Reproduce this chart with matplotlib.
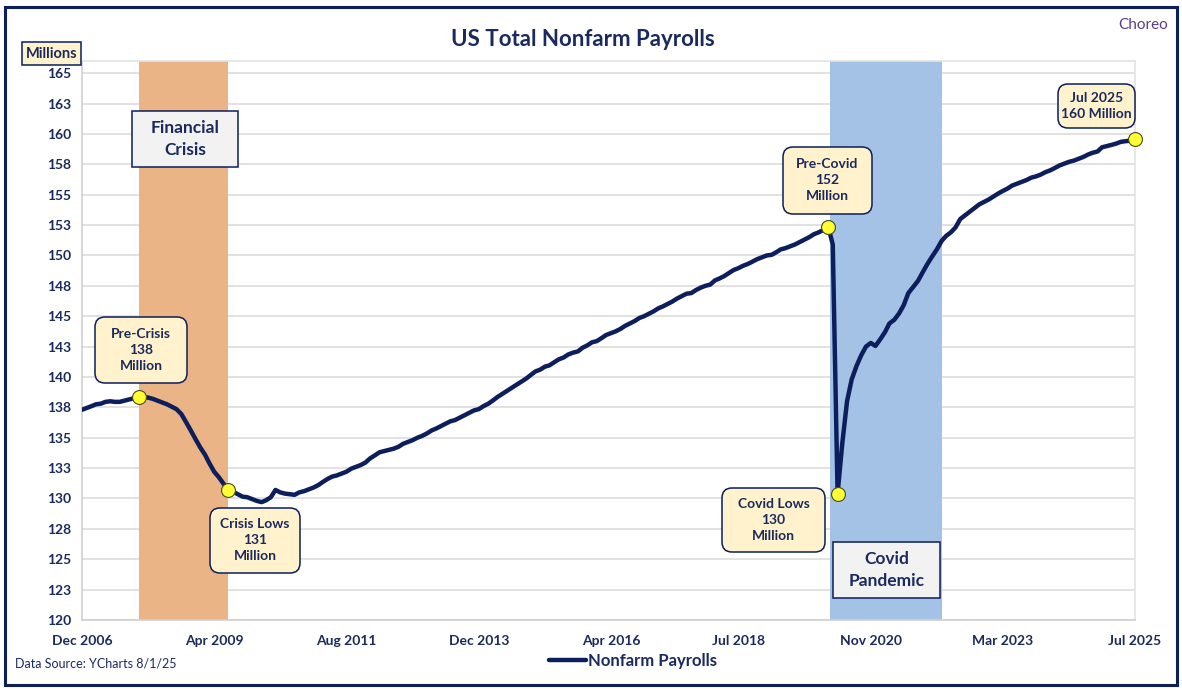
import numpy as np
import pandas as pd
import matplotlib
matplotlib.use("Agg")
import matplotlib.pyplot as plt
from matplotlib.patches import FancyBboxPatch, Rectangle

# Total nonfarm payrolls, millions, monthly from Dec 2006 to Jul 2025
start_month = "2006-12-01"
y2006 = [137.3]
y2007 = [137.45, 137.6, 137.75, 137.8, 137.95, 138.0, 137.95, 137.95, 138.05, 138.15, 138.25, 138.35]
y2008 = [138.35, 138.3, 138.2, 138.05, 137.9, 137.75, 137.55, 137.35, 136.95, 136.3, 135.6, 134.9]
y2009 = [134.2, 133.6, 132.9, 132.2, 131.75, 131.2, 130.7, 130.55, 130.35, 130.15, 130.1, 129.95]
y2010 = [129.8, 129.7, 129.85, 130.1, 130.7, 130.5, 130.4, 130.35, 130.3, 130.5, 130.6, 130.75]
y2011 = [130.9, 131.1, 131.35, 131.6, 131.8, 131.9, 132.05, 132.2, 132.45, 132.6, 132.75, 132.95]
y2012 = [133.3, 133.55, 133.8, 133.9, 134.0, 134.1, 134.25, 134.5, 134.65, 134.8, 135.0, 135.15]
y2013 = [135.35, 135.6, 135.75, 135.95, 136.15, 136.35, 136.45, 136.65, 136.85, 137.05, 137.25, 137.35]
y2014 = [137.6, 137.8, 138.05, 138.35, 138.6, 138.85, 139.1, 139.35, 139.6, 139.85, 140.15, 140.45]
y2015 = [140.6, 140.85, 140.95, 141.2, 141.45, 141.6, 141.85, 142.0, 142.1, 142.4, 142.6, 142.85]
y2016 = [142.95, 143.2, 143.45, 143.6, 143.75, 143.95, 144.2, 144.4, 144.6, 144.85, 145.0, 145.2]
y2017 = [145.4, 145.65, 145.8, 146.0, 146.2, 146.45, 146.65, 146.85, 146.9, 147.15, 147.35, 147.5]
y2018 = [147.6, 147.95, 148.1, 148.3, 148.55, 148.8, 148.95, 149.15, 149.3, 149.5, 149.7, 149.85]
y2019 = [150.0, 150.05, 150.25, 150.5, 150.6, 150.75, 150.9, 151.1, 151.3, 151.5, 151.75, 151.9]
y2020 = [152.1, 152.35, 150.9, 130.4, 134.5, 138.0, 139.8, 140.9, 141.8, 142.5, 142.8, 142.55]
y2021 = [143.1, 143.7, 144.4, 144.7, 145.2, 145.9, 146.9, 147.4, 147.9, 148.6, 149.3, 149.9]
y2022 = [150.5, 151.2, 151.6, 151.9, 152.3, 153.0, 153.3, 153.6, 153.9, 154.2, 154.4, 154.6]
y2023 = [154.85, 155.1, 155.3, 155.5, 155.75, 155.9, 156.05, 156.2, 156.4, 156.5, 156.65, 156.85]
y2024 = [157.0, 157.2, 157.4, 157.55, 157.7, 157.8, 157.95, 158.1, 158.3, 158.45, 158.55, 158.9]
y2025 = [159.0, 159.1, 159.2, 159.35, 159.4, 159.45, 159.55]

payrolls = (y2006 + y2007 + y2008 + y2009 + y2010 + y2011 + y2012 + y2013 + y2014
            + y2015 + y2016 + y2017 + y2018 + y2019 + y2020 + y2021 + y2022 + y2023
            + y2024 + y2025)
dates = pd.date_range(start_month, periods=len(payrolls), freq="MS")

# highlighted points
highlight_dates = ["2007-12-01", "2009-07-01", "2020-02-01", "2020-04-01", "2025-07-01"]

# shaded periods
crisis_span = ("2007-12-01", "2009-07-01")
covid_span = ("2020-02-15", "2022-02-01")

xtick_dates = ["2006-12-01", "2009-04-01", "2011-08-01", "2013-12-01", "2016-04-01",
               "2018-07-01", "2020-11-01", "2023-03-01", "2025-07-01"]
xtick_labels = ["Dec 2006", "Apr 2009", "Aug 2011", "Dec 2013", "Apr 2016",
                "Jul 2018", "Nov 2020", "Mar 2023", "Jul 2025"]
ytick_values = np.arange(120, 165.1, 2.5)
ytick_labels = ["120", "123", "125", "128", "130", "133", "135", "138", "140", "143",
                "145", "148", "150", "153", "155", "158", "160", "163", "165"]

navy = "#0C1E5B"
text_navy = "#1A2A5E"
cream = "#FFF2CC"
font = ["Lato", "DejaVu Sans"]
plt.rcParams["font.family"] = font

W, H = 1182, 693
fig = plt.figure(figsize=(W / 100, H / 100), dpi=100)
ax = fig.add_axes([82 / W, 1 - 620 / H, 1053 / W, 559 / H])

series = pd.Series(payrolls, index=dates)

ax.axvspan(pd.Timestamp(crisis_span[0]), pd.Timestamp(crisis_span[1]), color="#EBB486", lw=0, zorder=1)
ax.axvspan(pd.Timestamp(covid_span[0]), pd.Timestamp(covid_span[1]), color="#A4C2E6", lw=0, zorder=1)

ax.plot(series.index, series.values, color=navy, lw=3.2, solid_capstyle="round", zorder=3,
        label="Nonfarm Payrolls")
hd = pd.to_datetime(highlight_dates)
ax.plot(hd, series.loc[hd].values, "o", ms=10, mfc="#FFFF33", mec="#4A4A20", mew=0.8,
        zorder=4, clip_on=False)

ax.set_xlim(dates[0], dates[-1])
ax.set_ylim(120, 166)
ax.set_yticks(ytick_values)
ax.set_yticklabels(ytick_labels)
ax.set_xticks(pd.to_datetime(xtick_dates))
ax.set_xticklabels(xtick_labels)
ax.tick_params(length=0, labelsize=10, labelcolor=text_navy)
ax.tick_params(axis="x", pad=11)
ax.tick_params(axis="y", pad=8)
for lab in ax.get_xticklabels() + ax.get_yticklabels():
    lab.set_fontweight("bold")
ax.grid(axis="y", color="#DDDDDD", lw=1.2, zorder=0)
ax.set_axisbelow(True)
for s in ["top", "right"]:
    ax.spines[s].set_color("#E3E3E3")
for s in ["left", "bottom"]:
    ax.spines[s].set_color("#D0D0D0")
for s in ax.spines.values():
    s.set_linewidth(1.2)


def box(x0, y0, x1, y1, txt, fc=cream, rounded=True, size=10):
    # coordinates in image pixels (top-left origin)
    bx, by = x0 / 100, (H - y1) / 100
    bw, bh = (x1 - x0) / 100, (y1 - y0) / 100
    style = "round,pad=0,rounding_size=0.1" if rounded else "square,pad=0"
    fig.patches.append(FancyBboxPatch((bx, by), bw, bh, boxstyle=style, fc=fc, ec=navy,
                                      lw=1.1, transform=fig.dpi_scale_trans, zorder=5))
    fig.text((x0 + x1) / 2 / W, 1 - (y0 + y1) / 2 / H, txt, ha="center", va="center",
             fontsize=size, fontweight="bold", color=text_navy, linespacing=1.4, zorder=6)


box(95, 317, 187, 383, "Pre-Crisis\n138\nMillion")
box(210, 508, 300, 573, "Crisis Lows\n131\nMillion")
box(783, 147, 872, 214, "Pre-Covid\n152\nMillion")
box(722, 488, 825, 552, "Covid Lows\n130\nMillion")
box(1058, 84, 1135, 128, "Jul 2025\n160 Million")
box(132, 111, 238, 167, "Financial\nCrisis", fc="#F2F2F2", rounded=False, size=12.5)
box(833, 542, 940, 598, "Covid\nPandemic", fc="#F2F2F2", rounded=False, size=12.5)
box(22, 42, 81, 65, "Millions", rounded=False, size=10.5)

fig.text(583 / W, 1 - 40 / H, "US Total Nonfarm Payrolls", ha="center", va="center",
         fontsize=16, fontweight="bold", color=text_navy)
fig.text(1143 / W, 1 - 25 / H, "Choreo", ha="center", va="center", fontsize=11,
         color="#5B3C88")
fig.text(15 / W, 1 - 664 / H, "Data Source: YCharts 8/1/25", ha="left", va="center",
         fontsize=9, color=text_navy)

leg = fig.legend(loc="center", bbox_to_anchor=(633 / W, 1 - 661 / H), frameon=False,
                 handlelength=2.2, handletextpad=0.1, prop={"weight": "bold", "size": 12})
for t in leg.get_texts():
    t.set_color(text_navy)

fig.patches.append(Rectangle((5 / W, 1 - 685 / H), 1172 / W, 678 / H, transform=fig.transFigure,
                             fill=False, ec=navy, lw=2.2, zorder=0))

fig.savefig("out.png", dpi=100)
